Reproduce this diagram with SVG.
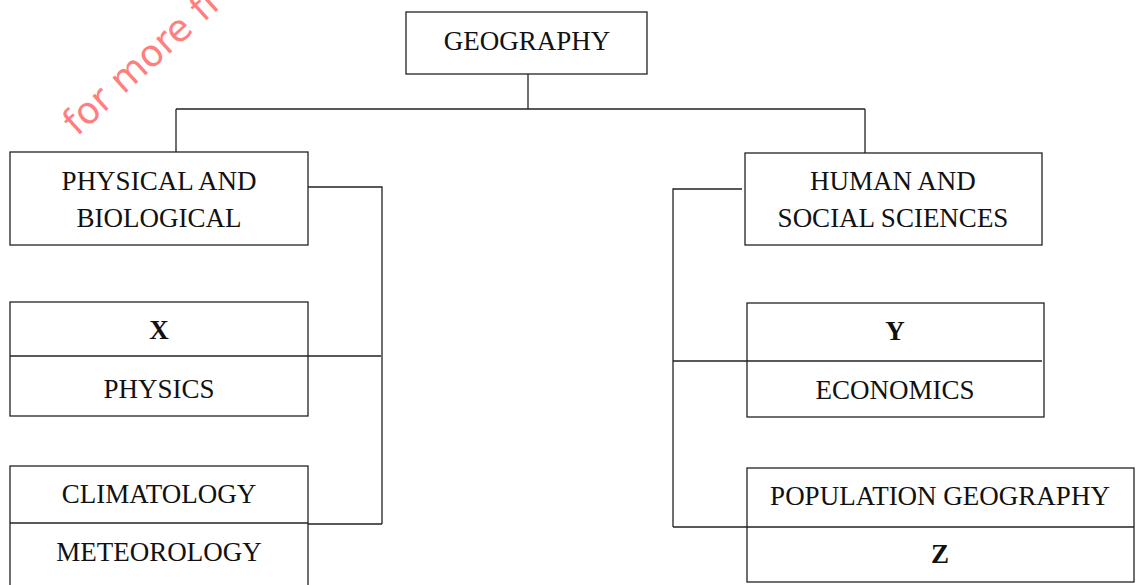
<svg xmlns="http://www.w3.org/2000/svg" width="1138" height="585" viewBox="0 0 1138 585">
<style>
.box{fill:#fff;stroke:#222;stroke-width:1.3}
.ln{fill:none;stroke:#222;stroke-width:1.3}
.t{font-family:"Liberation Serif","DejaVu Serif",serif;font-size:27px;fill:#111;text-anchor:middle}
.b{font-weight:bold}
.wm{font-family:"DejaVu Sans","Liberation Sans",sans-serif;font-size:37px;fill:#ff7f7f}
</style>
<rect width="1138" height="585" fill="#fff"/>
<text class="wm" transform="translate(77,137) rotate(-42)">for more fr</text>
<g id="connectors">
<path class="ln" d="M528,74 V109 M176,109 H865 M176,109 V152 M865,109 V153"/>
<path class="ln" d="M308,187 H382 V524 M308,356 H381 M308,524 H382"/>
<path class="ln" d="M742,189 H673 V527 M673,361 H747 M673,527 H747"/>
</g>
<g id="geography">
<rect class="box" x="406" y="12" width="241" height="62"/>
<text class="t" x="527" y="50">GEOGRAPHY</text>
</g>
<g id="physical">
<rect class="box" x="10" y="152" width="298" height="93"/>
<text class="t" x="159" y="190">PHYSICAL AND</text>
<text class="t" x="159" y="227">BIOLOGICAL</text>
</g>
<g id="human">
<rect class="box" x="745" y="153" width="297" height="92"/>
<text class="t" x="893" y="190">HUMAN AND</text>
<text class="t" x="893" y="227">SOCIAL SCIENCES</text>
</g>
<g id="x-physics">
<rect class="box" x="10" y="302" width="298" height="114"/>
<path class="ln" d="M10,356 H308"/>
<text class="t b" x="159" y="339">X</text>
<text class="t" x="159" y="398">PHYSICS</text>
</g>
<g id="climatology">
<rect class="box" x="10" y="466" width="298" height="130"/>
<path class="ln" d="M10,523 H308"/>
<text class="t" x="159" y="503">CLIMATOLOGY</text>
<text class="t" x="159" y="561">METEOROLOGY</text>
</g>
<g id="y-economics">
<rect class="box" x="747" y="303" width="297" height="114"/>
<path class="ln" d="M747,361 H1042"/>
<text class="t b" x="895" y="340">Y</text>
<text class="t" x="895" y="399">ECONOMICS</text>
</g>
<g id="population">
<rect class="box" x="747" y="468" width="387" height="114"/>
<path class="ln" d="M747,527 H1134"/>
<text class="t" x="940" y="505">POPULATION GEOGRAPHY</text>
<text class="t b" x="940" y="563">Z</text>
</g>
</svg>
